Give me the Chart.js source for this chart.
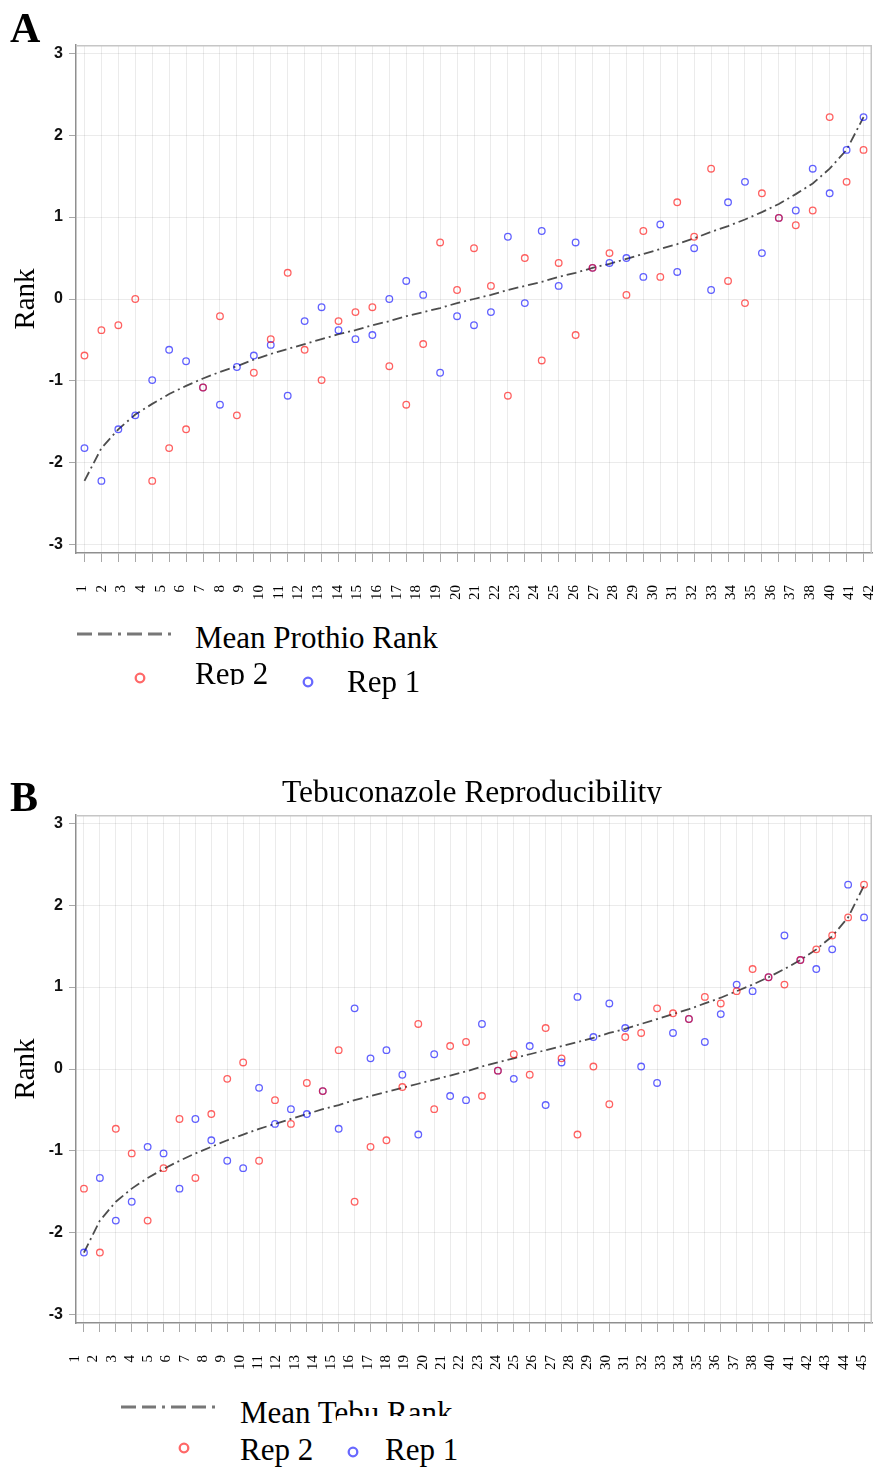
<!DOCTYPE html>
<html lang="en">
<head>
<meta charset="UTF-8">
<title>Prothio / Tebu Reproducibility</title>
<style>
  body { margin: 0; background: #fff; font-family: 'Liberation Serif', 'Times New Roman', serif; }
  #page { position: relative; width: 878px; height: 1468px; overflow: hidden; }
  canvas.plot { position: absolute; left: 0; }
  .txt { position: absolute; white-space: nowrap; color: #000; line-height: 1; }
  .letter { font-size: 42px; font-weight: bold; }
  .leg { font-size: 31px; }
  .clip { position: absolute; overflow: hidden; }
  canvas.sym { position: absolute; }
</style>
</head>
<body>
<div id="page">
  <canvas id="chartA" class="plot" width="878" height="610" style="top:0"></canvas>
  <canvas id="chartB" class="plot" width="878" height="610" style="top:770px"></canvas>

  <div class="txt letter" style="left:10px;top:7px">A</div>
  <div class="txt letter" style="left:10px;top:776px">B</div>
  <div class="clip" style="left:0;top:770px;width:878px;height:34px">
    <div class="txt" style="left:282px;top:6px;font-size:31.5px">Tebuconazole Reproducibility</div>
  </div>

  <!-- legend A -->
  <canvas id="legLineA" class="sym" width="96" height="10" style="left:77px;top:629px"></canvas>
  <div class="txt leg" style="left:195px;top:622px">Mean Prothio Rank</div>
  <canvas id="legRedA" class="sym" width="16" height="16" style="left:132px;top:670px"></canvas>
  <div class="clip" style="left:0;top:650px;width:300px;height:35px">
    <div class="txt leg" style="left:195px;top:8px">Rep 2</div>
  </div>
  <canvas id="legBlueA" class="sym" width="16" height="16" style="left:300px;top:674px"></canvas>
  <div class="txt leg" style="left:347px;top:666px">Rep 1</div>

  <!-- legend B -->
  <canvas id="legLineB" class="sym" width="96" height="10" style="left:121px;top:1402px"></canvas>
  <div class="txt leg" style="left:240px;top:1397px">Mean Tebu Rank</div>
  <div style="position:absolute;left:337px;top:1416px;width:125px;height:12px;background:#fff"></div>
  <canvas id="legRedB" class="sym" width="16" height="16" style="left:176px;top:1440px"></canvas>
  <div class="txt leg" style="left:240px;top:1434px">Rep 2</div>
  <canvas id="legBlueB" class="sym" width="16" height="16" style="left:345px;top:1444px"></canvas>
  <div class="txt leg" style="left:385px;top:1434px">Rep 1</div>
</div>

<script src="https://cdn.jsdelivr.net/npm/chart.js"></script>
<script>
  // Panel A - Prothioconazole (47 isolates, normal-score ranks)
  const rep1A = [-1.82, -2.22, -1.59, -1.42, -0.99, -0.62, -0.76, -1.08, -1.29, -0.83,
                 -0.69, -0.56, -1.18, -0.27, -0.10, -0.38, -0.49, -0.44, 0.00, 0.22,
                 0.05, -0.90, -0.21, -0.32, -0.16, 0.76, -0.05, 0.83, 0.16, 0.69,
                 0.38, 0.44, 0.50, 0.27, 0.91, 0.33, 0.62, 0.11, 1.18, 1.43,
                 0.56, 0.99, 1.08, 1.59, 1.29, 1.82, 2.22];
  const rep2A = [-0.69, -0.38, -0.32, 0.00, -2.22, -1.82, -1.59, -1.08, -0.21, -1.42,
                 -0.90, -0.49, 0.32, -0.62, -0.99, -0.27, -0.16, -0.10, -0.82, -1.29,
                 -0.55, 0.69, 0.11, 0.62, 0.16, -1.18, 0.50, -0.75, 0.44, -0.44,
                 0.38, 0.56, 0.05, 0.83, 0.27, 1.18, 0.76, 1.59, 0.22, -0.05,
                 1.29, 0.99, 0.90, 1.08, 2.22, 1.43, 1.82];
  const meanA = [-2.22, -1.82, -1.59, -1.41, -1.28, -1.16, -1.06, -0.97, -0.89, -0.82,
                 -0.74, -0.67, -0.61, -0.55, -0.49, -0.43, -0.38, -0.32, -0.27, -0.21,
                 -0.16, -0.11, -0.05, 0.00, 0.05, 0.11, 0.16, 0.21, 0.27, 0.32,
                 0.38, 0.43, 0.49, 0.55, 0.61, 0.67, 0.74, 0.82, 0.89, 0.97,
                 1.06, 1.16, 1.28, 1.41, 1.59, 1.82, 2.22];
  const tickLabelsA = ['1','2','3','4','5','6','7','8','9','10','11','12','13','14','15',
                       '16','17','18','19','20','21','22','23','24','25','26','27','28','29','30',
                       '31','32','33','34','35','36','37','38','40','41','42'];

  // Panel B - Tebuconazole (50 isolates)
  const rep1B = [-2.24, -1.33, -1.85, -1.62, -0.95, -1.03, -1.46, -0.61, -0.87, -1.12,
                 -1.21, -0.23, -0.67, -0.49, -0.55, -0.27, -0.73, 0.74, 0.13, 0.23,
                 -0.07, -0.80, 0.18, -0.33, -0.38, 0.55, -0.02, -0.12, 0.28, -0.44,
                 0.08, 0.88, 0.39, 0.80, 0.50, 0.03, -0.17, 0.44, 0.61, 0.33,
                 0.67, 1.03, 0.95, 1.12, 1.63, 1.33, 1.22, 1.46, 2.25, 1.85];
  const rep2B = [-1.46, -2.24, -0.73, -1.03, -1.85, -1.21, -0.61, -1.33, -0.55, -0.12,
                 0.08, -1.12, -0.38, -0.67, -0.17, -0.27, 0.23, -1.62, -0.95, -0.87,
                 -0.22, 0.55, -0.49, 0.28, 0.33, -0.33, -0.02, 0.18, -0.07, 0.50,
                 0.13, -0.80, 0.03, -0.43, 0.39, 0.44, 0.74, 0.68, 0.61, 0.88,
                 0.80, 0.95, 1.22, 1.12, 1.03, 1.33, 1.46, 1.63, 1.85, 2.25];
  const meanB = [-2.24, -1.85, -1.62, -1.46, -1.33, -1.22, -1.12, -1.03, -0.95, -0.87,
                 -0.80, -0.73, -0.67, -0.61, -0.55, -0.49, -0.44, -0.38, -0.33, -0.28,
                 -0.23, -0.18, -0.13, -0.08, -0.03, 0.03, 0.08, 0.13, 0.18, 0.23,
                 0.28, 0.33, 0.38, 0.44, 0.49, 0.55, 0.61, 0.67, 0.73, 0.80,
                 0.87, 0.95, 1.03, 1.12, 1.22, 1.33, 1.46, 1.62, 1.85, 2.24];
  const tickLabelsB = ['1','2','3','4','5','6','7','8','9','10','11','12','13','14','15',
                       '16','17','18','19','20','21','22','23','24','25','26','27','28','29','30',
                       '31','32','33','34','35','36','37','38','40','41','42','43','44','45'];

  const yTicks = [-3, -2, -1, 0, 1, 2, 3];

  const serif = "'Liberation Serif', 'Times New Roman', serif";
  const gridColor = 'rgba(0,0,0,0.08)';
  const axisColor = '#8f8f8f';
  const red = 'rgba(255,0,0,0.62)';
  const blue = 'rgba(0,0,255,0.62)';

  Chart.defaults.font.family = "'Liberation Sans', Arial, sans-serif";
  Chart.defaults.animation = false;

  function pts(vals) {
    return vals.map((v, i) => ({ x: i + 1, y: v }));
  }

  // no label overhang padding, so the plot wall keeps its full width
  function fixWidth(s, h) {
    s.height = h;
    s.paddingLeft = 0;
    s.paddingRight = 0;
  }

  // light frame on the top and right of the plot wall
  const framePlugin = {
    id: 'frame',
    beforeDatasetsDraw(chart) {
      const { ctx, chartArea: a } = chart;
      ctx.save();
      ctx.strokeStyle = '#c6c6c6';
      ctx.lineWidth = 1.5;
      ctx.beginPath();
      ctx.moveTo(a.left, a.top + 0.75);
      ctx.lineTo(a.right - 0.75, a.top + 0.75);
      ctx.lineTo(a.right - 0.75, a.bottom);
      ctx.stroke();
      ctx.restore();
    }
  };

  function makeChart(id, rep1, rep2, mean, tickLabels, labelMin, labelMax) {
    const n = mean.length;
    return new Chart(document.getElementById(id), {
      type: 'scatter',
      data: {
        datasets: [
          {
            label: 'Mean',
            data: pts(mean),
            showLine: true,
            borderColor: '#4d4d4d',
            borderWidth: 1.8,
            borderDash: [10, 4, 2, 4],
            pointRadius: 0,
            order: 3
          },
          {
            label: 'Rep 1',
            data: pts(rep1),
            borderColor: blue,
            backgroundColor: 'rgba(0,0,0,0)',
            pointRadius: 3.3,
            pointBorderWidth: 1.3,
            order: 2
          },
          {
            label: 'Rep 2',
            data: pts(rep2),
            borderColor: red,
            backgroundColor: 'rgba(0,0,0,0)',
            pointRadius: 3.3,
            pointBorderWidth: 1.3,
            order: 1
          }
        ]
      },
      options: {
        responsive: false,
        layout: { padding: { top: 45, right: 6, bottom: 0, left: 0 } },
        plugins: {
          legend: { display: false },
          tooltip: { enabled: false }
        },
        scales: {
          x: {
            type: 'linear',
            position: 'bottom',
            min: 0.5,
            max: n + 0.5,
            afterBuildTicks: s => { s.ticks = mean.map((_, i) => ({ value: i + 1 })); },
            afterFit: s => fixWidth(s, 10),
            ticks: { display: false },
            grid: { color: gridColor, lineWidth: 1, drawTicks: true, tickLength: 9, tickColor: '#a8a8a8', tickWidth: 1 },
            border: { display: true, color: axisColor, width: 1.5 }
          },
          xl: {
            type: 'linear',
            axis: 'x',
            position: 'bottom',
            weight: 1,
            min: labelMin,
            max: labelMax,
            afterBuildTicks: s => { s.ticks = tickLabels.map((_, i) => ({ value: i })); },
            afterFit: s => fixWidth(s, 47),
            grid: { display: false, drawTicks: false },
            border: { display: false },
            ticks: {
              autoSkip: false,
              minRotation: 90,
              maxRotation: 90,
              padding: 22,
              color: '#000',
              font: { family: serif, size: 15 },
              callback: v => tickLabels[v]
            }
          },
          y: {
            type: 'linear',
            min: -3.1,
            max: 3.1,
            afterBuildTicks: s => { s.ticks = yTicks.map(v => ({ value: v })); },
            afterFit: s => { s.width = 76; s.paddingTop = 0; s.paddingBottom = 0; },
            ticks: {
              color: '#111',
              padding: 6,
              font: { size: 16, weight: 'bold' },
              callback: v => String(v)
            },
            grid: { color: gridColor, lineWidth: 1, tickLength: 7, tickColor: '#a8a8a8' },
            border: { color: axisColor, width: 1.5 },
            title: {
              display: true,
              text: 'Rank',
              color: '#000',
              font: { family: serif, size: 29, lineHeight: 1 },
              padding: { top: 11.5, bottom: 0 }
            }
          }
        }
      },
      plugins: [framePlugin]
    });
  }

  makeChart('chartA', rep1A, rep2A, meanA, tickLabelsA, -0.305, 40.15);
  makeChart('chartB', rep1B, rep2B, meanB, tickLabelsB, 0.055, 43.55);

  // legend symbols
  function legendLine(id) {
    const c = document.getElementById(id);
    const g = c.getContext('2d');
    g.strokeStyle = '#777';
    g.lineWidth = 3;
    g.setLineDash([15, 6, 14, 6, 3, 6]);
    g.beginPath();
    g.moveTo(0, 5);
    g.lineTo(c.width, 5);
    g.stroke();
  }
  function legendCircle(id, color) {
    const c = document.getElementById(id);
    const g = c.getContext('2d');
    g.strokeStyle = color;
    g.lineWidth = 2.3;
    g.beginPath();
    g.arc(8, 8, 4.3, 0, Math.PI * 2);
    g.stroke();
  }
  legendLine('legLineA');
  legendLine('legLineB');
  legendCircle('legRedA', 'rgba(255,40,40,0.7)');
  legendCircle('legBlueA', 'rgba(40,40,255,0.7)');
  legendCircle('legRedB', 'rgba(255,40,40,0.7)');
  legendCircle('legBlueB', 'rgba(40,40,255,0.7)');
</script>
</body>
</html>
